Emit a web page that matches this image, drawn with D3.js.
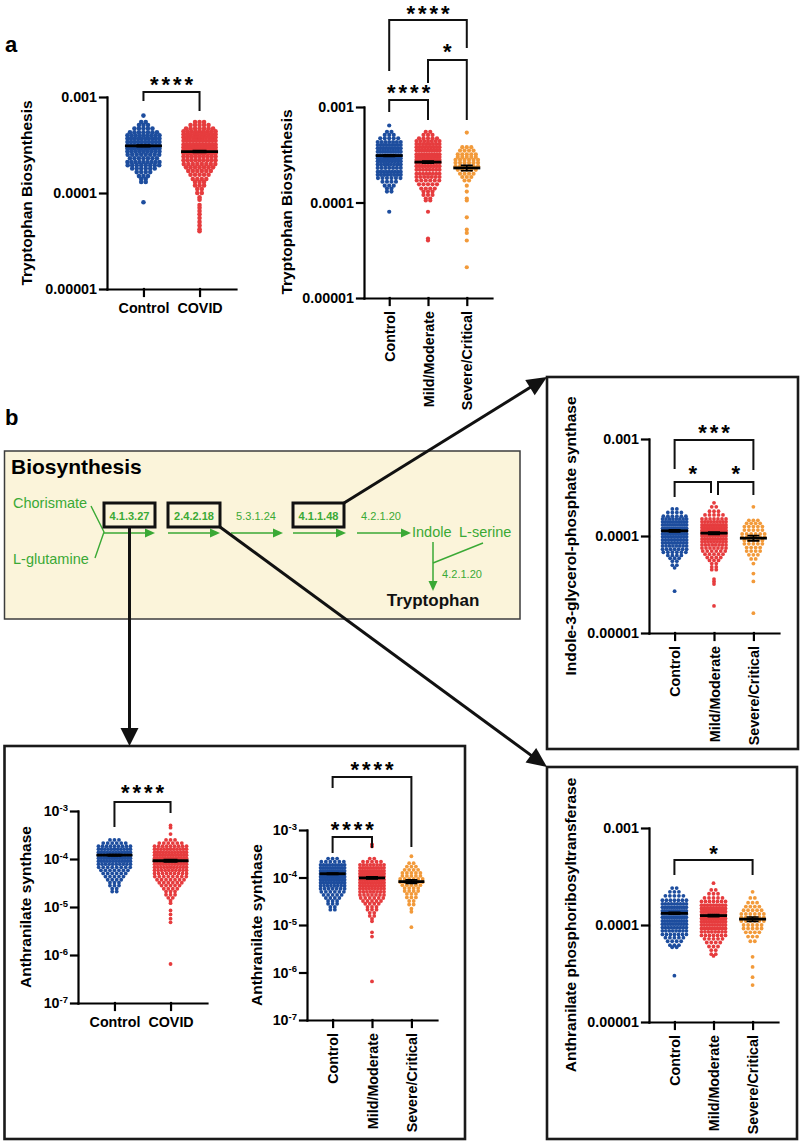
<!DOCTYPE html>
<html><head><meta charset="utf-8">
<script src="https://cdn.jsdelivr.net/npm/d3@7"></script>
<style>body{margin:0;background:#fff;} svg{display:block;}</style>
</head><body>
<svg id="fig" width="800" height="1141"></svg>
<script>
// ---------------- DATA ----------------
const decTicks = [1e-5, 1e-4, 1e-3];
const decLabels = ["0.00001", "0.0001", "0.001"];
const asTicks = [1e-7, 1e-6, 1e-5, 1e-4, 1e-3];
const asExps = ["-7", "-6", "-5", "-4", "-3"];
const cats2 = ["Control", "COVID"];
const cats3 = ["Control", "Mild/Moderate", "Severe/Critical"];

// Tryptophan biosynthesis, [value x1e-5, number of samples at that level]
const trpControl = [[64,1],[55,2],[51,3],[47,5],[43,7],[40,9],[37,10],[34,10],[31,11],[29,10],[27,9],[25,8],[23,7],[21,9],[19.5,8],[18,6],[16.5,4],[15,3],[14,2],[13,2],[8,1]];
const trpCovid = [[55,3],[51,5],[47,7],[44,9],[41,10],[38,11],[35,11],[32,11],[30,11],[28,10],[26,10],[24,9],[22,9],[20,8],[18.5,7],[17,6],[15.5,5],[14,4],[13,3],[12,3],[11,2],[10,2],[9,1],[8.5,1],[7.5,1],[7,1],[6.5,1],[6,1],[5.5,1],[5,1],[4.6,1],[4.2,1],[4,1]];
const trpMild = [[55,2],[51,3],[47,5],[44,7],[41,8],[38,9],[35,10],[32,10],[30,10],[28,9],[26,9],[24,9],[22,8],[20,8],[18.5,7],[17,6],[15.5,5],[14,4],[13,3],[12,3],[11,2],[10.5,2],[8,1],[4.2,1],[4,1]];
const trpSevere = [[54,1],[38,3],[35,4],[32,5],[30,5],[28,6],[26,6],[24,6],[22,5],[20,4],[18.5,3],[17,2],[15,1],[13,1],[11,1],[10.5,1],[7,1],[5.2,1],[4.8,1],[4,1],[2.1,1]];
const trpMeans2 = [31, 27], trpSems2 = [0.6, 0.6];
const trpMeans3 = [31, 26.5, 23], trpSems3 = [0.6, 0.7, 1.5];
const trpSig2 = ["****"];
const trpSig3 = ["****", "*", "****"];

// Indole-3-glycerol-phosphate synthase, [value x1e-5, count]
const igpsControl = [[19,2],[17.5,4],[16,6],[15,8],[14,10],[13,11],[12,12],[11.3,12],[10.5,11],[9.8,10],[9.1,9],[8.5,9],[7.9,8],[7.3,7],[6.8,6],[6.3,4],[5.9,3],[5.5,2],[5,2],[4.7,1],[2.7,1]];
const igpsMild = [[22,1],[20,2],[18,3],[16.5,5],[15,7],[14,9],[13,10],[12.2,11],[11.4,11],[10.7,11],[10,10],[9.3,10],[8.7,9],[8.1,8],[7.5,7],[7,6],[6.5,5],[6,4],[5.6,3],[5.2,2],[4.8,2],[4.5,2],[3.6,1],[3.4,1],[3.2,1],[1.9,1]];
const igpsSevere = [[20,1],[14.5,3],[13.5,4],[12.5,5],[11.5,5],[10.5,6],[9.7,6],[9,5],[8.3,5],[7.6,4],[7,4],[6.4,3],[5.8,2],[5.2,1],[4.1,1],[3.4,1],[1.6,1]];
const igpsMeans = [11.3, 10.7, 9.5], igpsSems = [0.3, 0.3, 0.6];
const igpsSig = ["***", "*", "*"];

// Anthranilate phosphoribosyltransferase, [value x1e-5, count]
const aprtControl = [[24,2],[22,3],[20,5],[18,7],[16.5,9],[15.2,11],[14,12],[13,12],[12,12],[11,11],[10.2,10],[9.4,9],[8.7,8],[8,7],[7.4,5],[6.8,4],[6.2,3],[5.9,2],[3.0,1]];
const aprtMild = [[27,1],[23,2],[21,3],[19,5],[17.5,7],[16,9],[14.8,11],[13.7,12],[12.7,12],[11.7,12],[10.8,11],[10,10],[9.2,9],[8.5,8],[7.8,7],[7.2,5],[6.6,4],[6,3],[5.5,2],[5,2],[4.8,1]];
const aprtSevere = [[22,1],[19,2],[17,3],[15.5,4],[14.2,5],[13,6],[12,6],[11,6],[10,5],[9.2,5],[8.4,4],[7.6,3],[6.8,2],[4.7,1],[3.7,1],[2.9,1],[2.4,1]];
const aprtMeans = [13.2, 12.5, 11.5], aprtSems = [0.3, 0.3, 0.6];
const aprtSig = ["*"];

// Anthranilate synthase, [value x1e-6, count]
const asControl = [[250,3],[215,6],[185,9],[160,11],[138,12],[120,13],[104,13],[90,12],[78,10],[67,8],[58,7],[50,6],[43,5],[37,4],[32,3],[28,3],[24,2],[21,2]];
const asCovid = [[500,1],[450,1],[330,1],[250,3],[215,6],[185,9],[160,11],[138,12],[120,13],[104,13],[90,13],[78,12],[67,11],[58,10],[50,9],[43,8],[37,7],[32,6],[28,5],[24,4],[21,3],[18,3],[15.5,2],[13.5,1],[12,1],[8.5,1],[7,1],[5.7,1],[4.8,1],[0.65,1]];
const asMild = [[500,1],[450,1],[250,2],[215,5],[185,8],[160,10],[138,11],[120,12],[104,12],[90,12],[78,11],[67,10],[58,9],[50,8],[43,7],[37,6],[32,5],[28,4],[24,3],[21,3],[18,2],[15.5,2],[13.5,1],[12,1],[7,1],[5.7,1],[0.65,1]];
const asSevere = [[280,1],[200,2],[170,3],[145,4],[125,5],[108,5],[93,6],[80,6],[69,5],[60,4],[52,4],[45,3],[38,3],[32,2],[27,2],[22,1],[19,1],[9,1]];
const asMeans2 = [120, 92], asSems2 = [4, 5];
const asMeans3 = [120, 98, 82], asSems3 = [4, 5, 7];
const asSig2 = ["****"];
const asSig3 = ["****", "****"];

// ---------------- STYLE ----------------
const FONT = "'Liberation Sans', Arial, Helvetica, sans-serif";
const BLUE = "#1d4d9e", RED = "#e63c3e", ORANGE = "#f29a3a", GREEN = "#3aa935";
const colors3 = [BLUE, RED, ORANGE];

const svg = d3.select("#fig").attr("font-family", FONT);

function plot(c) {
  const g = svg.append("g");
  const y = d3.scaleLog().domain(c.domain).range([c.yBottom, c.yTop]);
  const x = d3.scalePoint().domain(c.cats).range([c.axisX, c.axisEnd]).padding(0.65);

  // points
  c.groups.forEach((grp, gi) => {
    const cx = x(c.cats[gi]);
    const pts = [];
    grp.data.forEach(([v, n]) => {
      const s = n > 1 ? Math.min(c.sMax, c.maxW / (n - 1)) : 0;
      for (let k = 0; k < n; k++) pts.push({ v: v * grp.unit, dx: (k - (n - 1) / 2) * s });
    });
    g.append("g").selectAll("circle").data(pts).join("circle")
      .attr("cx", d => cx + d.dx).attr("cy", d => y(d.v)).attr("r", c.r).attr("fill", grp.color);
  });
  // mean + SEM
  c.groups.forEach((grp, gi) => {
    const cx = x(c.cats[gi]);
    const m = grp.mean * grp.unit, se = grp.sem * grp.unit;
    g.append("line").attr("x1", cx - c.lineW / 2).attr("x2", cx + c.lineW / 2)
      .attr("y1", y(m)).attr("y2", y(m)).attr("stroke", "#000").attr("stroke-width", 2.8);
    g.append("path").attr("d",
      `M${cx},${y(m - se)}V${y(m + se)}M${cx - c.capW / 2},${y(m - se)}H${cx + c.capW / 2}M${cx - c.capW / 2},${y(m + se)}H${cx + c.capW / 2}`)
      .attr("stroke", "#000").attr("stroke-width", 1.6).attr("fill", "none");
  });

  // axes
  const ya = g.append("g").attr("transform", `translate(${c.axisX},0)`)
    .call(d3.axisLeft(y).tickValues(c.ticks).tickFormat(d => c.sup ? "10" : c.labels[c.ticks.indexOf(d)])
      .tickSize(7).tickSizeOuter(0).tickPadding(3));
  if (c.sup) {
    ya.selectAll(".tick text").each(function (d) {
      const t = d3.select(this);
      t.append("tspan").attr("dy", "-0.55em").attr("font-size", 9.5).text(c.labels[c.ticks.indexOf(d)]);
    });
  }
  const xa = g.append("g").attr("transform", `translate(0,${c.yBottom})`)
    .call(d3.axisBottom(x).tickSize(7).tickSizeOuter(0).tickPadding(7));
  [ya, xa].forEach(a => {
    a.attr("font-family", FONT).attr("font-size", 14.3).attr("font-weight", "bold");
    a.selectAll("path,line").attr("stroke", "#000").attr("stroke-width", 2.2).attr("stroke-linecap", "square");
    a.selectAll("text").attr("fill", "#000");
  });
  if (c.rotate) {
    xa.selectAll(".tick text").attr("transform", "rotate(-90)").attr("text-anchor", "end")
      .attr("x", -13).attr("y", 0).attr("dy", "0.36em");
  }

  // title
  g.append("text").attr("transform", `translate(${c.titleX + 5.5},${c.titleY}) rotate(-90)`)
    .attr("text-anchor", "middle").attr("font-size", 15.5).attr("font-weight", "bold").text(c.title);

  // brackets
  c.brackets.forEach(b => {
    const xa1 = x(c.cats[b.a]) + (b.oa || 0), xb1 = x(c.cats[b.b]) + (b.ob || 0);
    g.append("path").attr("d", `M${xa1},${b.legA}V${b.top}H${xb1}V${b.legB}`)
      .attr("fill", "none").attr("stroke", "#111").attr("stroke-width", 2);
    g.append("text").attr("x", (xa1 + xb1) / 2 + 1.5).attr("y", b.cy + 11.5)
      .attr("text-anchor", "middle").attr("font-size", 22).attr("font-weight", "bold")
      .attr("letter-spacing", 3).text(b.label);
  });
}

function grp(data, unit, color, mean, sem) { return { data, unit, color, mean, sem }; }

// ---------------- PANEL a ----------------
svg.append("text").attr("x", 5).attr("y", 52).attr("font-size", 22).attr("font-weight", "bold").text("a");

plot({
  axisX: 107, axisEnd: 236, yTop: 97, yBottom: 289, domain: [1e-5, 1e-3], ticks: decTicks, labels: decLabels, sup: false,
  cats: cats2, groups: [grp(trpControl, 1e-5, BLUE, trpMeans2[0], trpSems2[0]), grp(trpCovid, 1e-5, RED, trpMeans2[1], trpSems2[1])],
  r: 2.3, maxW: 32, sMax: 4.5, lineW: 37, capW: 14, rotate: false,
  title: "Tryptophan Biosynthesis", titleX: 26, titleY: 193,
  brackets: [{ a: 0, b: 1, label: trpSig2[0], top: 92, legA: 101, legB: 111, cy: 80 }]
});

plot({
  axisX: 364, axisEnd: 492, yTop: 107, yBottom: 298, domain: [1e-5, 1e-3], ticks: decTicks, labels: decLabels, sup: false,
  cats: cats3, groups: cats3.map((k, i) => grp([trpControl, trpMild, trpSevere][i], 1e-5, colors3[i], trpMeans3[i], trpSems3[i])),
  r: 2.1, maxW: 23, sMax: 4.5, lineW: 27, capW: 12, rotate: true,
  title: "Tryptophan Biosynthesis", titleX: 286, titleY: 202,
  brackets: [
    { a: 0, b: 1, label: trpSig3[0], top: 100, legA: 112, legB: 120, cy: 88 },
    { a: 1, b: 2, label: trpSig3[1], top: 60, legA: 83, legB: 120, cy: 47 },
    { a: 0, b: 2, label: trpSig3[2], top: 20, legA: 71, legB: 48, cy: 9 }
  ]
});

// ---------------- PANEL b ----------------
svg.append("text").attr("x", 5).attr("y", 425).attr("font-size", 22).attr("font-weight", "bold").text("b");

// pathway diagram
const dg = svg.append("g");
dg.append("rect").attr("x", 4.5).attr("y", 451).attr("width", 515.5).attr("height", 168)
  .attr("fill", "#fbf4da").attr("stroke", "#3c3c3c").attr("stroke-width", 1.5);
dg.append("text").attr("x", 11).attr("y", 474).attr("font-size", 21).attr("font-weight", "bold").text("Biosynthesis");

function arrow(g, x1, y1, x2, y2, len, wid, color, sw) {
  const dx = x2 - x1, dy = y2 - y1, L = Math.hypot(dx, dy), ux = dx / L, uy = dy / L;
  const bx = x2 - ux * len, by = y2 - uy * len;
  g.append("line").attr("x1", x1).attr("y1", y1).attr("x2", x2 - ux * len * 0.6).attr("y2", y2 - uy * len * 0.6)
    .attr("stroke", color).attr("stroke-width", sw);
  g.append("path").attr("d", `M${x2},${y2}L${bx - uy * wid / 2},${by + ux * wid / 2}L${bx + uy * wid / 2},${by - ux * wid / 2}Z`)
    .attr("fill", color);
}
function gtext(x, y, s, size, anchor, weight, fill) {
  dg.append("text").attr("x", x).attr("y", y).attr("font-size", size).attr("text-anchor", anchor || "start")
    .attr("font-weight", weight || "normal").attr("fill", fill || GREEN).text(s);
}
gtext(13, 508, "Chorismate", 14.5);
gtext(13, 564, "L-glutamine", 14.5);
dg.append("path").attr("d", "M91,506 L104,532 L95,558").attr("fill", "none").attr("stroke", GREEN).attr("stroke-width", 1.4);
const arrowsG = [[104, 155], [168, 220], [231, 283], [293, 346], [357, 411]];
arrowsG.forEach(([a, b]) => arrow(dg, a, 533, b, 533, 10, 9, GREEN, 1.5));
[[104, 155, "4.1.3.27"], [168, 220, "2.4.2.18"], [293, 344, "4.1.1.48"]].forEach(([a, b, t]) => {
  dg.append("rect").attr("x", a).attr("y", 503).attr("width", b - a).attr("height", 24)
    .attr("fill", "none").attr("stroke", "#111").attr("stroke-width", 3);
  gtext((a + b) / 2, 520, t, 11, "middle", "bold");
});
gtext(256, 520, "5.3.1.24", 11, "middle");
gtext(381, 520, "4.2.1.20", 11, "middle");
gtext(412, 537, "Indole", 14.5);
gtext(459, 537, "L-serine", 14.5);
arrow(dg, 433, 542, 433, 591, 10, 9, GREEN, 1.5);
dg.append("line").attr("x1", 483).attr("y1", 543).attr("x2", 433).attr("y2", 563).attr("stroke", GREEN).attr("stroke-width", 1.4);
gtext(462, 578, "4.2.1.20", 11, "middle");
gtext(433, 606, "Tryptophan", 17, "middle", "bold", "#111");

// enclosing boxes
[[4.5, 746, 465, 1139], [547, 377, 798, 749], [547, 767, 797, 1139]].forEach(([x1, y1, x2, y2]) => {
  svg.append("rect").attr("x", x1).attr("y", y1).attr("width", x2 - x1).attr("height", y2 - y1)
    .attr("fill", "none").attr("stroke", "#1a1a1a").attr("stroke-width", 2.6);
});
// connectors
const cg = svg.append("g");
arrow(cg, 129.5, 527, 129.5, 746, 18, 18, "#111", 3);
arrow(cg, 220, 527, 547, 767, 20, 18, "#111", 3);
arrow(cg, 344, 503, 547, 377, 20, 18, "#111", 3);

// Indole-3-glycerol-phosphate synthase
plot({
  axisX: 649, axisEnd: 779, yTop: 439, yBottom: 633, domain: [1e-5, 1e-3], ticks: decTicks, labels: decLabels, sup: false,
  cats: cats3, groups: cats3.map((k, i) => grp([igpsControl, igpsMild, igpsSevere][i], 1e-5, colors3[i], igpsMeans[i], igpsSems[i])),
  r: 1.9, maxW: 24, sMax: 4.5, lineW: 27, capW: 12, rotate: true,
  title: "Indole-3-glycerol-phosphate synthase", titleX: 570, titleY: 536,
  brackets: [
    { a: 0, b: 2, label: igpsSig[0], top: 440, legA: 469, legB: 470, cy: 428 },
    { a: 0, b: 1, ob: -3, label: igpsSig[1], top: 482, legA: 497, legB: 493, cy: 469 },
    { a: 1, b: 2, oa: 4, label: igpsSig[2], top: 482, legA: 495, legB: 495, cy: 469 }
  ]
});

// Anthranilate phosphoribosyltransferase
plot({
  axisX: 649, axisEnd: 778, yTop: 828, yBottom: 1022, domain: [1e-5, 1e-3], ticks: decTicks, labels: decLabels, sup: false,
  cats: cats3, groups: cats3.map((k, i) => grp([aprtControl, aprtMild, aprtSevere][i], 1e-5, colors3[i], aprtMeans[i], aprtSems[i])),
  r: 1.9, maxW: 24, sMax: 4.5, lineW: 27, capW: 12, rotate: true,
  title: "Anthranilate phosphoribosyltransferase", titleX: 570, titleY: 925,
  brackets: [{ a: 0, b: 2, label: aprtSig[0], top: 860, legA: 875, legB: 875, cy: 849 }]
});

// Anthranilate synthase (2 groups)
plot({
  axisX: 78, axisEnd: 207, yTop: 811, yBottom: 1003, domain: [1e-7, 1e-3], ticks: asTicks, labels: asExps, sup: true,
  cats: cats2, groups: [grp(asControl, 1e-6, BLUE, asMeans2[0], asSems2[0]), grp(asCovid, 1e-6, RED, asMeans2[1], asSems2[1])],
  r: 1.9, maxW: 32, sMax: 4.5, lineW: 36, capW: 14, rotate: false,
  title: "Anthranilate synthase", titleX: 25, titleY: 907,
  brackets: [{ a: 0, b: 1, label: asSig2[0], top: 802, legA: 827, legB: 813, cy: 788 }]
});

// Anthranilate synthase (3 groups)
plot({
  axisX: 307, axisEnd: 437, yTop: 830, yBottom: 1020, domain: [1e-7, 1e-3], ticks: asTicks, labels: asExps, sup: true,
  cats: cats3, groups: cats3.map((k, i) => grp([asControl, asMild, asSevere][i], 1e-6, colors3[i], asMeans3[i], asSems3[i])),
  r: 1.9, maxW: 24, sMax: 4.5, lineW: 26, capW: 12, rotate: true,
  title: "Anthranilate synthase", titleX: 256, titleY: 925,
  brackets: [
    { a: 0, b: 1, label: asSig3[0], top: 837, legA: 853, legB: 848, cy: 825 },
    { a: 0, b: 2, label: asSig3[1], top: 777, legA: 788, legB: 847, cy: 765 }
  ]
});
</script>
</body></html>
